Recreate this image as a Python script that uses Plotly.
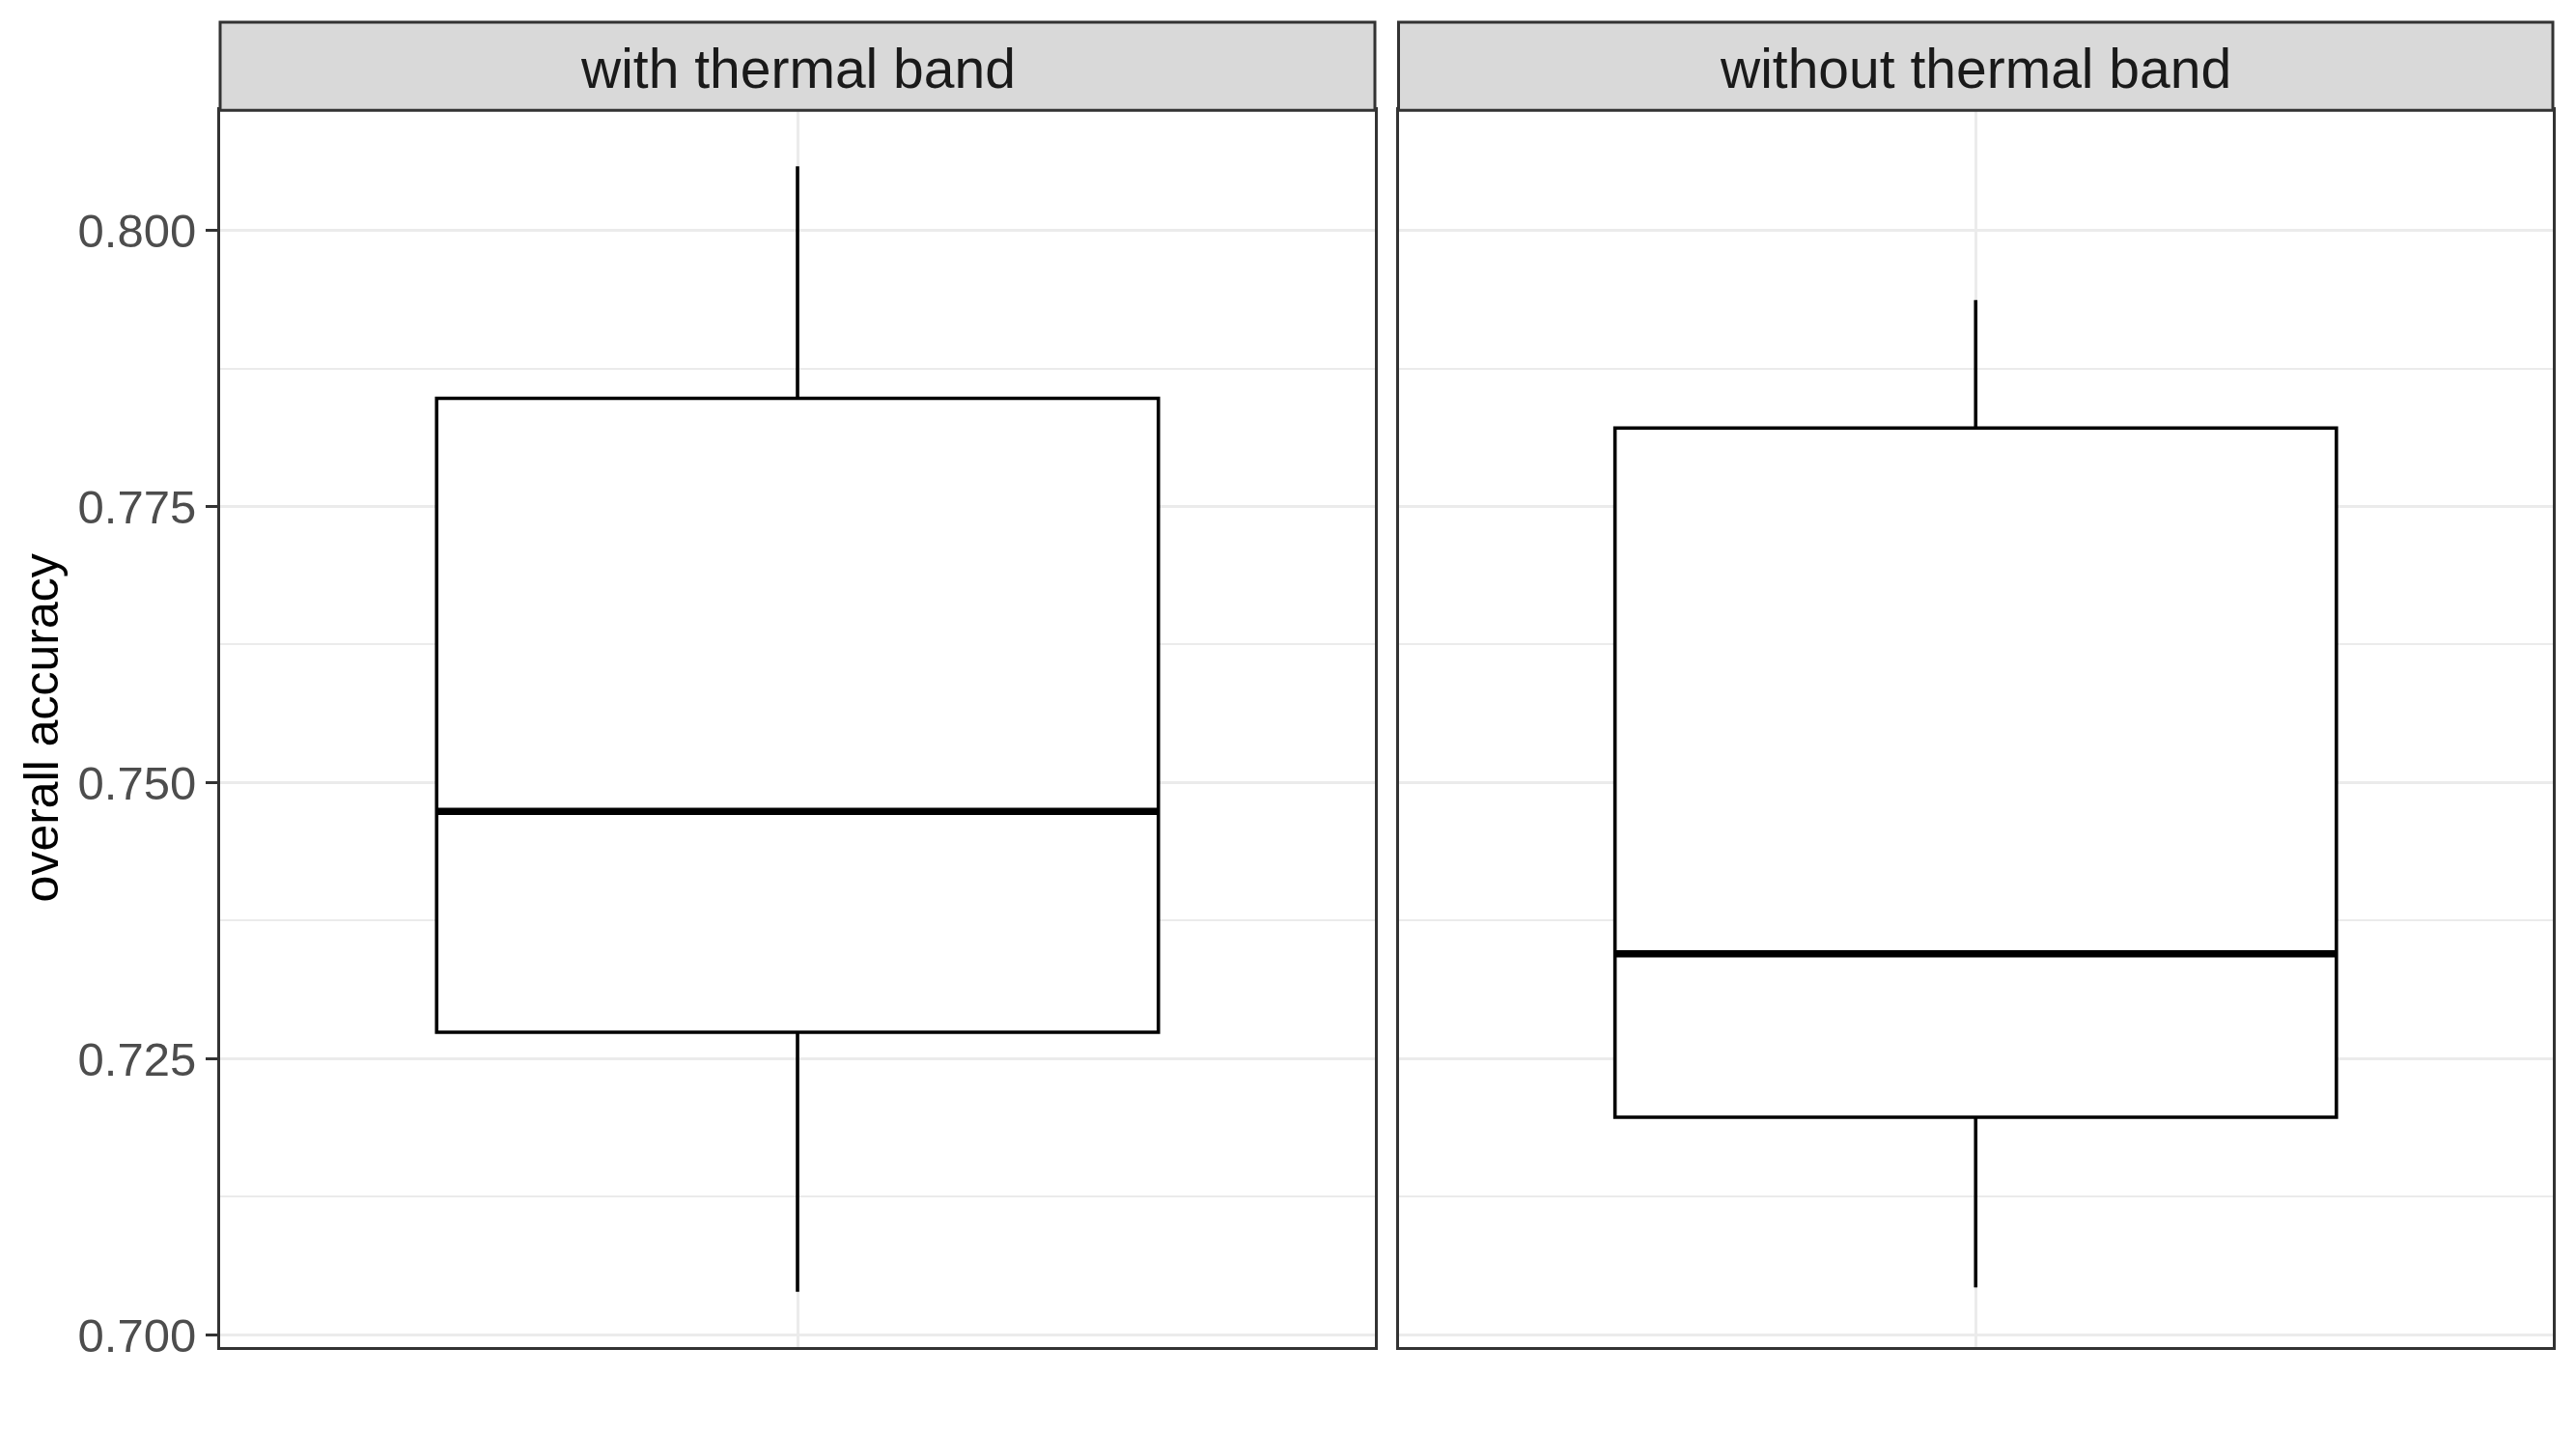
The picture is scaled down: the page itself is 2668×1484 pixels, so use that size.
import plotly.graph_objects as go

# ---- data ----
panels = ["with thermal band", "without thermal band"]
lower_whisker = [0.7039, 0.7043]
q1_values = [0.7274, 0.7197]
medians = [0.7474, 0.7345]
q3_values = [0.7848, 0.7821]
upper_whisker = [0.8058, 0.7937]
y_ticks = [0.700, 0.725, 0.750, 0.775, 0.800]
y_title = "overall accuracy"

# page is 2668x1484 with an 8px default body margin -> figure is 16px smaller
PAGE_W, PAGE_H = 2668, 1484
OFF = 8
W, H = PAGE_W - 2 * OFF, PAGE_H - 2 * OFF
YSCALE = 1500 / 1484  # empirical vertical correction of the capture
FONT = "Liberation Sans, Arial, sans-serif"
BORDER = "#333333"
GRID = "#EBEBEB"

# panel geometry in target pixels
panel_x = [(228, 1424), (1448.5, 2644)]
plot_top, plot_bottom = 114, 1394
strip_top = 23

def px_x(v):
    return (v - OFF) / W

def px_y(v):
    return 1 - (v * YSCALE - OFF) / H

fig = go.Figure()

box_pos = 1.0
box_w = 0.75
for i, name in enumerate(panels):
    xa = "x" if i == 0 else "x2"
    ya = "y" if i == 0 else "y2"
    fig.add_trace(go.Box(
        x=[box_pos], q1=[q1_values[i]], median=[medians[i]], q3=[q3_values[i]],
        lowerfence=[lower_whisker[i]], upperfence=[upper_whisker[i]],
        width=box_w, whiskerwidth=0, fillcolor="white",
        line=dict(color="black", width=3.6), boxpoints=False,
        xaxis=xa, yaxis=ya, showlegend=False, hoverinfo="skip", name=name,
    ))
    # thicker median line (ggplot fatten = 2)
    fig.add_trace(go.Scatter(
        x=[box_pos - box_w / 2, box_pos + box_w / 2], y=[medians[i], medians[i]],
        mode="lines", line=dict(color="black", width=7.4),
        xaxis=xa, yaxis=ya, showlegend=False, hoverinfo="skip",
    ))

yrange = [0.69892, 0.81088]
axis_common = dict(
    showline=True, linecolor=BORDER, linewidth=3, mirror=True,
    gridcolor=GRID, gridwidth=3.4, zeroline=False,
)

for i in range(2):
    sfx = "" if i == 0 else "2"
    x0, x1 = panel_x[i]
    fig.layout["xaxis" + sfx] = dict(
        domain=[px_x(x0), px_x(x1)], range=[0.4, 1.6],
        tickvals=[1.0], showticklabels=False, ticks="",
        showgrid=True, anchor="y" + sfx, **axis_common,
    )
    fig.layout["yaxis" + sfx] = dict(
        domain=[px_y(plot_bottom), px_y(plot_top)], range=yrange,
        tickvals=y_ticks, ticktext=[f"{v:.3f}" for v in y_ticks],
        showticklabels=(i == 0), ticks="outside" if i == 0 else "",
        ticklen=12, tickwidth=3.4, tickcolor=BORDER,
        tickfont=dict(family=FONT, size=49, color="#4D4D4D"),
        ticklabelstandoff=0,
        minor=dict(dtick=0.0125, tick0=0.7, showgrid=True, gridcolor=GRID, gridwidth=1.8, ticks=""),
        showgrid=True, anchor="x" + sfx, **axis_common,
    )

# strips
shapes = []
annotations = []
for i, name in enumerate(panels):
    x0, x1 = panel_x[i]
    shapes.append(dict(
        type="rect", xref="paper", yref="paper",
        x0=px_x(x0), x1=px_x(x1), y0=px_y(plot_top), y1=px_y(strip_top),
        fillcolor="#D9D9D9", line=dict(color=BORDER, width=3), layer="above",
    ))
    annotations.append(dict(
        text=name, xref="paper", yref="paper",
        x=(px_x(x0) + px_x(x1)) / 2, y=px_y((strip_top + plot_top) / 2 + 2),
        xanchor="center", yanchor="middle", showarrow=False,
        font=dict(family=FONT, size=57, color="#1A1A1A"),
    ))

annotations.append(dict(
    text=y_title, xref="paper", yref="paper",
    x=px_x(43), y=px_y((plot_top + plot_bottom) / 2),
    xanchor="center", yanchor="middle", textangle=-90, showarrow=False,
    font=dict(family=FONT, size=50, color="black"),
))

fig.update_layout(
    width=W, height=H, autosize=False,
    margin=dict(l=0, r=0, t=0, b=0),
    paper_bgcolor="white", plot_bgcolor="white",
    shapes=shapes, annotations=annotations, showlegend=False,
)

fig.write_html("out.html", config={"displayModeBar": False})
